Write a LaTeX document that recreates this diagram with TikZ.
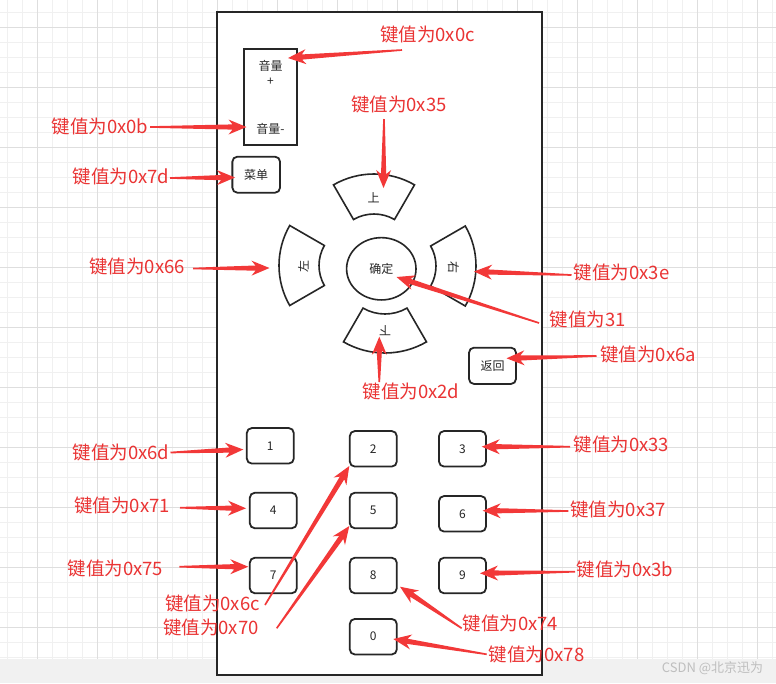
\documentclass[tikz,border=0pt]{standalone}
\usepackage{fontspec}
\setmainfont{Noto Sans CJK SC}
\usetikzlibrary{calc,shapes.geometric}
\definecolor{keyred}{RGB}{242,56,56}
\definecolor{labred}{RGB}{234,52,52}
\definecolor{ink}{RGB}{38,38,38}
\definecolor{gridmin}{RGB}{240,240,240}
\definecolor{gridmaj}{RGB}{222,222,222}
\definecolor{stripgrey}{RGB}{241,241,241}
\definecolor{wmgrey}{RGB}{190,190,190}
% tapered arrow: #1 tail coordinate, #2 tip coordinate
\newcommand\keyarrow[2]{%
  \coordinate (ka-h) at ($(#2)!18pt!(#1)$);
  \coordinate (ka-n) at ($(#2)!14pt!(#1)$);
  \fill[keyred] ($(#1)!0.8pt!90:(#2)$) -- ($(ka-n)!2.6pt!-90:(#1)$) -- ($(ka-h)!7.5pt!-90:(#1)$) -- (#2)
     -- ($(ka-h)!7.5pt!90:(#1)$) -- ($(ka-n)!2.6pt!90:(#1)$) -- ($(#1)!0.8pt!-90:(#2)$) -- cycle;
}
% annular sector: #1 centre, #2 start angle, #3 end angle, #4 outer radius, #5 inner radius
\newcommand\dsector[5]{%
  \draw[padline] ($(#1)+(#2:#4pt)$) arc[start angle=#2, end angle=#3, radius=#4pt]
     -- ($(#1)+(#3:#5pt)$) arc[start angle=#3, end angle=#2, radius=#5pt] -- cycle;
}
\begin{document}
\begin{tikzpicture}[x=1pt,y=-1pt,
  lab/.style={text=labred, font=\fontsize{18.5}{20}\selectfont, inner sep=0pt, text height=16.2pt, text depth=2.3pt},
  keybox/.style={draw=ink, line width=1.8pt, rounded corners=5pt, fill=white, minimum width=47pt, minimum height=35.5pt, inner sep=0pt, font=\fontsize{12}{14}\selectfont, text=ink},
  padline/.style={draw=ink, line width=1.6pt, fill=white},
  padtext/.style={font=\fontsize{12}{14}\selectfont, text=ink, inner sep=0pt},
  gridminline/.style={draw=gridmin, line width=0.8pt},
  gridmajline/.style={draw=gridmaj, line width=0.9pt}]
\useasboundingbox (0,0) rectangle (776,683);
% background grid
\fill[white] (0,0) rectangle (776,659);
\fill[stripgrey] (0,659) rectangle (776,683);
\foreach \x in {7.7,22.7,...,776} \draw[gridminline] (\x,0) -- (\x,659);
\foreach \y in {12.3,27.3,...,659} \draw[gridminline] (0,\y) -- (776,\y);
\foreach \x in {37.7,97.7,...,776} \draw[gridmajline] (\x,0) -- (\x,659);
\foreach \y in {27.3,87.3,...,659} \draw[gridmajline] (0,\y) -- (776,\y);
\node[text=wmgrey, font=\fontsize{13}{15}\selectfont, inner sep=0pt] (wm) at (712.5,668.5) {CSDN @北京迅为};
% remote body
\draw[ink, line width=2pt, fill=white] (217.3,12.3) rectangle (542,675);
% volume key
\node[draw=ink, line width=1.8pt, fill=white, minimum width=53.3pt, minimum height=96pt, inner sep=0pt] (vol) at (270.7,97) {};
\node[padtext] (volup) at (270.5,65.7) {音量};
\node[padtext] (volplus) at (270.5,81.5) {+};
\node[padtext] (voldown) at (270.5,129) {音量-};
% menu and back
\node[keybox, minimum width=47.7pt, minimum height=36pt] (menu) at (256.2,174.7) {菜单};
\node[keybox, minimum width=47pt, minimum height=36.3pt] (back) at (492.5,365.8) {返回};
% direction pad
\coordinate (cup) at (374,255);
\coordinate (cdown) at (385,270);
\coordinate (cleft) at (359,265.5);
\coordinate (cright) at (396,266);
\dsector{cup}{60}{120}{81}{41}
\dsector{cdown}{240}{300}{83}{44}
\dsector{cleft}{150}{210}{80}{40}
\dsector{cright}{-30}{30}{80}{40}
\node[padtext] (up) at (373.5,198) {上};
\node[padtext, rotate=180] (down) at (385,331) {下};
\node[padtext, rotate=90] (left) at (303.3,266.7) {左};
\node[padtext, rotate=-90] (right) at (453.3,267.3) {右};
\node[draw=ink, line width=1.6pt, fill=white, ellipse, minimum width=69.4pt, minimum height=62.3pt, inner sep=0pt, font=\fontsize{12}{14}\selectfont, text=ink] (ok) at (381.3,268.8) {确定};
% number keys
\node[keybox] (k1) at (270.3,445.8) {1};
\node[keybox] (k2) at (373.3,448.8) {2};
\node[keybox] (k3) at (462.5,448.8) {3};
\node[keybox] (k4) at (273.3,510.5) {4};
\node[keybox] (k5) at (373.3,510.5) {5};
\node[keybox] (k6) at (462.5,513.8) {6};
\node[keybox] (k7) at (273.3,575.5) {7};
\node[keybox] (k8) at (373.3,575.5) {8};
\node[keybox] (k9) at (462.5,575.5) {9};
\node[keybox] (k0) at (373.3,636.7) {0};
% labels
\node[lab] (l0c) at (427.5,35) {键值为0x0c};
\node[lab] (l35) at (398.8,105) {键值为0x35};
\node[lab] (l0b) at (100,127) {键值为0x0b};
\node[lab] (l7d) at (121,177) {键值为0x7d};
\node[lab] (l66) at (137,267) {键值为0x66};
\node[lab] (l3e) at (621.7,273) {键值为0x3e};
\node[lab] (l31) at (587.7,320) {键值为31};
\node[lab] (l6a) at (648.3,355) {键值为0x6a};
\node[lab] (l2d) at (411,392) {键值为0x2d};
\node[lab] (l6d) at (121,452.7) {键值为0x6d};
\node[lab] (l71) at (122,506) {键值为0x71};
\node[lab] (l75) at (115.5,568.3) {键值为0x75};
\node[lab] (l6c) at (212.5,604) {键值为0x6c};
\node[lab] (l70) at (210.8,627.3) {键值为0x70};
\node[lab] (l33) at (621.5,445) {键值为0x33};
\node[lab] (l37) at (618,509.3) {键值为0x37};
\node[lab] (l3b) at (625,570) {键值为0x3b};
\node[lab] (l74) at (510.5,623.3) {键值为0x74};
\node[lab] (l78) at (536.7,654.3) {键值为0x78};
% arrow end points
\coordinate (t0c) at (402,50);    \coordinate (h0c) at (288,58);
\coordinate (t35) at (384,119);   \coordinate (h35) at (383.5,188);
\coordinate (t0b) at (150,127);   \coordinate (h0b) at (246.5,127);
\coordinate (t7d) at (170,178);   \coordinate (h7d) at (235,177.5);
\coordinate (t66) at (193,268.5); \coordinate (h66) at (269.5,268);
\coordinate (t3e) at (571.5,275); \coordinate (h3e) at (474,271.5);
\coordinate (t31) at (539,323);   \coordinate (h31) at (396.5,277);
\coordinate (t6a) at (596.5,356); \coordinate (h6a) at (506.5,358.3);
\coordinate (t2d) at (379.3,382); \coordinate (h2d) at (379.3,336.7);
\coordinate (t6d) at (170.5,452.5); \coordinate (h6d) at (243.3,449.5);
\coordinate (t71) at (180,507.7); \coordinate (h71) at (246,508.3);
\coordinate (t75) at (179.3,566.7); \coordinate (h75) at (248.3,566.7);
\coordinate (t6c) at (265,605);   \coordinate (h6c) at (349.3,466);
\coordinate (t70) at (276.7,628.3); \coordinate (h70) at (349.3,526);
\coordinate (t33) at (570,446.7); \coordinate (h33) at (481.7,446.7);
\coordinate (t37) at (568.3,511); \coordinate (h37) at (482.7,510.7);
\coordinate (t3b) at (575,571.7); \coordinate (h3b) at (480,573.3);
\coordinate (t74) at (461.7,628.3); \coordinate (h74) at (400,586.7);
\coordinate (t78) at (486.7,654.3); \coordinate (h78) at (393.3,639);
% arrows
\keyarrow{t0c}{h0c}
\keyarrow{t35}{h35}
\keyarrow{t0b}{h0b}
\keyarrow{t7d}{h7d}
\keyarrow{t66}{h66}
\keyarrow{t3e}{h3e}
\keyarrow{t31}{h31}
\keyarrow{t6a}{h6a}
\keyarrow{t2d}{h2d}
\keyarrow{t6d}{h6d}
\keyarrow{t71}{h71}
\keyarrow{t75}{h75}
\keyarrow{t6c}{h6c}
\keyarrow{t70}{h70}
\keyarrow{t33}{h33}
\keyarrow{t37}{h37}
\keyarrow{t3b}{h3b}
\keyarrow{t74}{h74}
\keyarrow{t78}{h78}
\end{tikzpicture}
\end{document}
